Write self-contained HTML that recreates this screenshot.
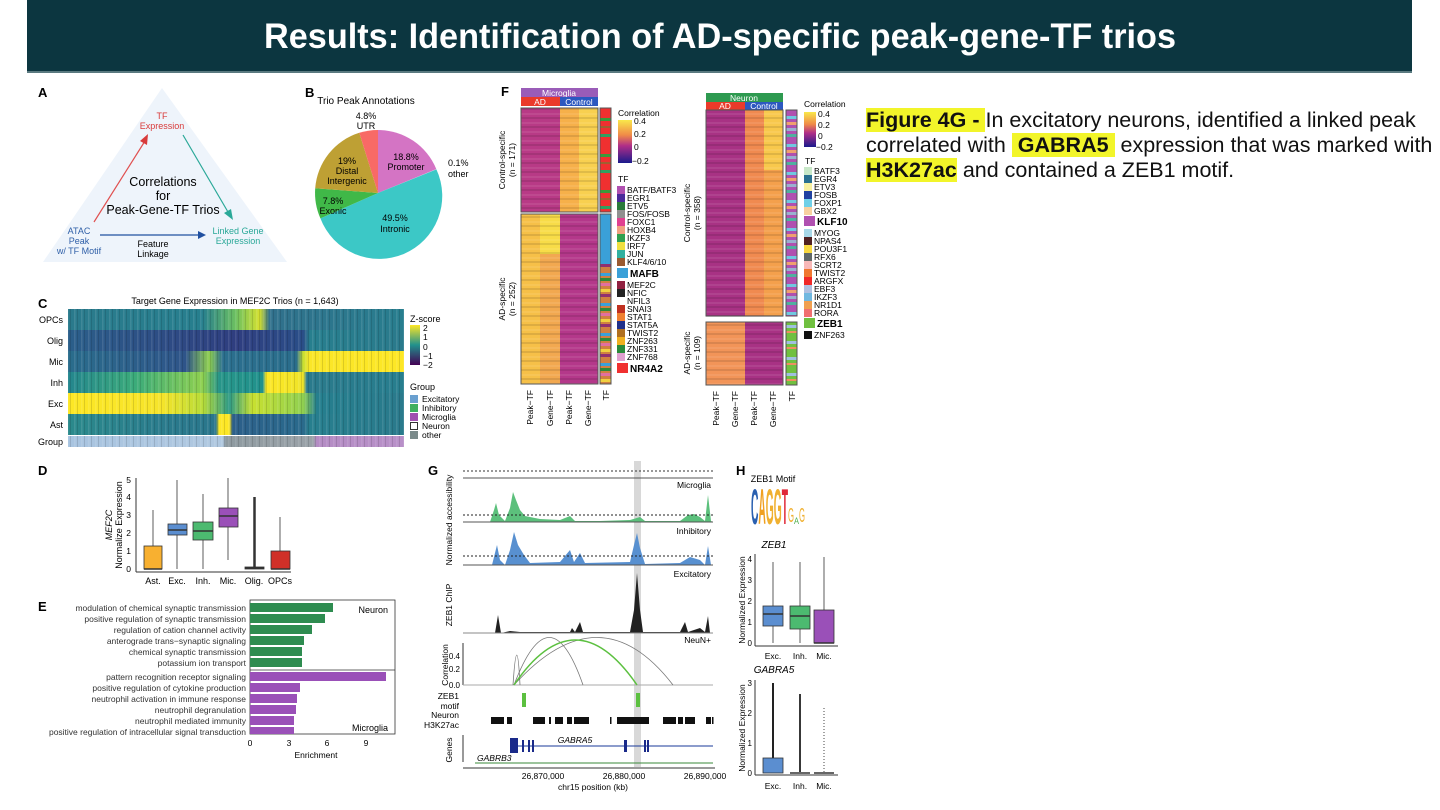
<!DOCTYPE html>
<html><head><meta charset="utf-8"><style>
body{margin:0;background:#fff;width:1440px;height:810px;overflow:hidden;font-family:"Liberation Sans",sans-serif}
.t{position:absolute;left:866px;font-size:21.5px;line-height:24.5px;white-space:nowrap;color:#111}
.hl{background:#f2f52a}
</style></head><body>
<svg width="1440" height="810" viewBox="0 0 1440 810" xmlns="http://www.w3.org/2000/svg" font-family="Liberation Sans, sans-serif" style="position:absolute;left:0;top:0">
<defs>
<linearGradient id="cOPC" x1="0" x2="1"><stop offset="0" stop-color="#2a7a8c"/><stop offset=".4" stop-color="#277f8e"/><stop offset=".5" stop-color="#6cc060"/><stop offset=".57" stop-color="#d4e030"/><stop offset=".6" stop-color="#30708c"/><stop offset="1" stop-color="#287e8e"/></linearGradient>
<linearGradient id="cOlig" x1="0" x2="1"><stop offset="0" stop-color="#2b5f8a"/><stop offset=".5" stop-color="#2f3e80"/><stop offset=".7" stop-color="#2a4e88"/><stop offset=".72" stop-color="#277f8e"/><stop offset="1" stop-color="#2a7a8c"/></linearGradient>
<linearGradient id="cMic" x1="0" x2="1"><stop offset="0" stop-color="#2a6d8c"/><stop offset=".35" stop-color="#2e5489"/><stop offset=".42" stop-color="#8fcf50"/><stop offset=".46" stop-color="#2b6f8e"/><stop offset=".68" stop-color="#2a6d8c"/><stop offset=".7" stop-color="#c8df30"/><stop offset=".72" stop-color="#fae628"/><stop offset="1" stop-color="#fde725"/></linearGradient>
<linearGradient id="cInh" x1="0" x2="1"><stop offset="0" stop-color="#24868e"/><stop offset=".2" stop-color="#3bab7a"/><stop offset=".4" stop-color="#8ed04f"/><stop offset=".45" stop-color="#279589"/><stop offset=".58" stop-color="#20918c"/><stop offset=".59" stop-color="#fde725"/><stop offset=".7" stop-color="#f0e428"/><stop offset=".71" stop-color="#2a7a8c"/><stop offset="1" stop-color="#287e8e"/></linearGradient>
<linearGradient id="cExc" x1="0" x2="1"><stop offset="0" stop-color="#fde725"/><stop offset=".28" stop-color="#f6e42a"/><stop offset=".4" stop-color="#b8dc38"/><stop offset=".48" stop-color="#2e9a86"/><stop offset=".55" stop-color="#c8e030"/><stop offset=".7" stop-color="#90d050"/><stop offset=".74" stop-color="#257f8e"/><stop offset="1" stop-color="#2a7a8c"/></linearGradient>
<linearGradient id="cAst" x1="0" x2="1"><stop offset="0" stop-color="#2b8a8c"/><stop offset=".3" stop-color="#2a7a8c"/><stop offset=".44" stop-color="#2a768c"/><stop offset=".45" stop-color="#fde725"/><stop offset=".48" stop-color="#fde725"/><stop offset=".49" stop-color="#2c5f8a"/><stop offset=".7" stop-color="#2a6a8c"/><stop offset=".72" stop-color="#277f8e"/><stop offset="1" stop-color="#2a7a8c"/></linearGradient>
<linearGradient id="cGrp" x1="0" x2="1"><stop offset="0" stop-color="#a8c4e0"/><stop offset=".46" stop-color="#b0c8e0"/><stop offset=".47" stop-color="#8e9aa0"/><stop offset=".73" stop-color="#9aa2a8"/><stop offset=".74" stop-color="#b48cc4"/><stop offset="1" stop-color="#b890c8"/></linearGradient>
<pattern id="vstr" width="7" height="10" patternUnits="userSpaceOnUse"><rect x="0" width="1" height="10" fill="#000" opacity=".12"/><rect x="4" width="1.5" height="10" fill="#fff" opacity=".1"/></pattern>
<pattern id="hstr" width="10" height="9" patternUnits="userSpaceOnUse"><rect y="0" width="10" height="2" fill="#000" opacity=".1"/><rect y="5" width="10" height="2" fill="#fff" opacity=".08"/></pattern>
<linearGradient id="corr" x1="0" y1="0" x2="0" y2="1"><stop offset="0" stop-color="#f9e84a"/><stop offset=".35" stop-color="#f08a48"/><stop offset=".6" stop-color="#b02e88"/><stop offset="1" stop-color="#1a1a8c"/></linearGradient>
<linearGradient id="zs" x1="0" y1="0" x2="0" y2="1"><stop offset="0" stop-color="#fde725"/><stop offset=".5" stop-color="#21918c"/><stop offset="1" stop-color="#440154"/></linearGradient>
<pattern id="tfm1" width="12" height="36" patternUnits="userSpaceOnUse"><rect width="12" height="36" fill="#f03030"/><rect y="10" width="12" height="3" fill="#3a9a3a"/><rect y="18" width="12" height="2" fill="#a06030"/><rect y="26" width="12" height="3" fill="#30a060"/></pattern>
<pattern id="tfm2" width="12" height="30" patternUnits="userSpaceOnUse"><rect width="12" height="30" fill="#d08040"/><rect y="3" width="12" height="3" fill="#3aa0d8"/><rect y="8" width="12" height="3" fill="#2a8a3a"/><rect y="13" width="12" height="3" fill="#e070a0"/><rect y="19" width="12" height="3" fill="#f0d040"/><rect y="24" width="12" height="3" fill="#903070"/></pattern>
<pattern id="tfn1" width="12" height="28" patternUnits="userSpaceOnUse"><rect width="12" height="28" fill="#b050b0"/><rect y="4" width="12" height="3" fill="#70c8e0"/><rect y="10" width="12" height="3" fill="#f0a070"/><rect y="16" width="12" height="3" fill="#9ab0d0"/><rect y="22" width="12" height="3" fill="#50b0a0"/></pattern>
<pattern id="tfn2" width="12" height="16" patternUnits="userSpaceOnUse"><rect width="12" height="16" fill="#70c040"/><rect y="5" width="12" height="3" fill="#a0c0e0"/><rect y="11" width="12" height="2" fill="#f09060"/></pattern>
</defs>

<!-- header -->
<rect x="27" y="0" width="1385" height="72" fill="#0c3640"/>
<rect x="27" y="71" width="1385" height="2" fill="#5a7a80"/>
<text x="720" y="48" text-anchor="middle" fill="#fff" font-weight="bold" font-size="35" textLength="912" lengthAdjust="spacingAndGlyphs">Results: Identification of AD-specific peak-gene-TF trios</text>

<!-- A -->
<text x="38" y="97" font-weight="bold" font-size="13">A</text>
<polygon points="162,88 43,262 287,262" fill="#eef4fb"/>
<text x="162" y="119" text-anchor="middle" font-size="9" fill="#d83a3a">TF</text>
<text x="162" y="129" text-anchor="middle" font-size="9" fill="#d83a3a">Expression</text>
<line x1="94" y1="222" x2="145" y2="141" stroke="#e05050" stroke-width="1.2"/><polygon points="148,134 140,141 147,145" fill="#d83a3a"/>
<line x1="183" y1="135" x2="228" y2="212" stroke="#2aa898" stroke-width="1.2"/><polygon points="233,220 224,213 231,209" fill="#2aa898"/>
<line x1="100" y1="235" x2="200" y2="235" stroke="#2050a0" stroke-width="1.2"/><polygon points="206,235 198,231 198,239" fill="#2050a0"/>
<text x="163" y="186" text-anchor="middle" font-size="12.5">Correlations</text>
<text x="163" y="200" text-anchor="middle" font-size="12.5">for</text>
<text x="163" y="214" text-anchor="middle" font-size="12.5">Peak-Gene-TF Trios</text>
<text x="79" y="234" text-anchor="middle" font-size="9" fill="#3060a8">ATAC</text>
<text x="79" y="244" text-anchor="middle" font-size="9" fill="#3060a8">Peak</text>
<text x="79" y="254" text-anchor="middle" font-size="9" fill="#3060a8">w/ TF Motif</text>
<text x="153" y="247" text-anchor="middle" font-size="9">Feature</text>
<text x="153" y="257" text-anchor="middle" font-size="9">Linkage</text>
<text x="238" y="234" text-anchor="middle" font-size="9" fill="#2aa898">Linked Gene</text>
<text x="238" y="244" text-anchor="middle" font-size="9" fill="#2aa898">Expression</text>

<!-- B -->
<text x="305" y="97" font-weight="bold" font-size="13">B</text>
<text x="366" y="104" text-anchor="middle" font-size="10">Trio Peak Annotations</text>
<path d="M378,193 L378,130 A63,63 0 0,1 436.3,169.1 Z" fill="#d474c4"/>
<path d="M378,193 L436.4,169.4 A63,63 0 1,1 320.4,218.4 Z" fill="#3cc8c6"/>
<path d="M378,193 L320.4,218.4 A63,63 0 0,1 315.2,188.3 Z" fill="#40b848"/>
<path d="M378,193 L315.2,188.3 A63,63 0 0,1 359.3,132.8 Z" fill="#bea034"/>
<path d="M378,193 L359.3,132.8 A63,63 0 0,1 378,130 Z" fill="#f86a66"/>
<text x="366" y="119" text-anchor="middle" font-size="9">4.8%</text><text x="366" y="129" text-anchor="middle" font-size="9">UTR</text>
<text x="406" y="160" text-anchor="middle" font-size="9">18.8%</text><text x="406" y="170" text-anchor="middle" font-size="9">Promoter</text>
<text x="448" y="166" font-size="9">0.1%</text><text x="448" y="177" font-size="9">other</text>
<text x="347" y="164" text-anchor="middle" font-size="9">19%</text><text x="347" y="174" text-anchor="middle" font-size="9">Distal</text><text x="347" y="184" text-anchor="middle" font-size="9">Intergenic</text>
<text x="333" y="204" text-anchor="middle" font-size="9">7.8%</text><text x="333" y="214" text-anchor="middle" font-size="9">Exonic</text>
<text x="395" y="221" text-anchor="middle" font-size="9">49.5%</text><text x="395" y="232" text-anchor="middle" font-size="9">Intronic</text>

<!-- C -->
<text x="38" y="308" font-weight="bold" font-size="13">C</text>
<text x="235" y="304" text-anchor="middle" font-size="9">Target Gene Expression in MEF2C Trios (n = 1,643)</text>
<rect x="68" y="309" width="336" height="21" fill="url(#cOPC)"/>
<rect x="68" y="330" width="336" height="21" fill="url(#cOlig)"/>
<rect x="68" y="351" width="336" height="21" fill="url(#cMic)"/>
<rect x="68" y="372" width="336" height="21" fill="url(#cInh)"/>
<rect x="68" y="393" width="336" height="21" fill="url(#cExc)"/>
<rect x="68" y="414" width="336" height="21" fill="url(#cAst)"/>
<rect x="68" y="309" width="336" height="126" fill="url(#vstr)"/>
<rect x="68" y="436" width="336" height="11" fill="url(#cGrp)"/>
<rect x="68" y="436" width="336" height="11" fill="url(#vstr)"/>
<g font-size="9" text-anchor="end"><text x="63" y="323">OPCs</text><text x="63" y="344">Olig</text><text x="63" y="365">Mic</text><text x="63" y="386">Inh</text><text x="63" y="407">Exc</text><text x="63" y="428">Ast</text><text x="63" y="445">Group</text></g>
<text x="410" y="322" font-size="9">Z-score</text>
<rect x="410" y="325" width="10" height="40" fill="url(#zs)"/>
<g font-size="8.5"><text x="423" y="331">2</text><text x="423" y="340">1</text><text x="423" y="350">0</text><text x="423" y="359">−1</text><text x="423" y="368">−2</text><text x="410" y="390" font-size="9">Group</text>
<rect x="410" y="395" width="8" height="8" fill="#6aa0d0"/><text x="422" y="402">Excitatory</text>
<rect x="410" y="404" width="8" height="8" fill="#40b060"/><text x="422" y="411">Inhibitory</text>
<rect x="410" y="413" width="8" height="8" fill="#a050b0"/><text x="422" y="420">Microglia</text>
<rect x="410.5" y="422.5" width="7" height="7" fill="#fff" stroke="#333"/><text x="422" y="429">Neuron</text>
<rect x="410" y="431" width="8" height="8" fill="#7a8a8a"/><text x="422" y="438">other</text></g>

<!-- D -->
<text x="38" y="475" font-weight="bold" font-size="13">D</text>
<line x1="136" y1="478" x2="136" y2="572" stroke="#333"/><line x1="136" y1="572" x2="291" y2="572" stroke="#333"/>
<g font-size="8.5" text-anchor="end"><text x="131" y="572">0</text><text x="131" y="554">1</text><text x="131" y="536">2</text><text x="131" y="518">3</text><text x="131" y="500">4</text><text x="131" y="483">5</text></g>
<text transform="translate(112,525) rotate(-90)" text-anchor="middle" font-size="9" font-style="italic">MEF2C</text>
<text transform="translate(122,525) rotate(-90)" text-anchor="middle" font-size="9">Normalize Expression</text>
<g stroke="#333" stroke-width="0.8">
<line x1="153" y1="510" x2="153" y2="546"/><rect x="144" y="546" width="18" height="23" fill="#f8b030"/><line x1="144" y1="569" x2="162" y2="569" stroke-width="1.5"/>
<line x1="177" y1="480" x2="177" y2="569"/><rect x="168" y="524" width="19" height="11" fill="#5b8ed0"/><line x1="168" y1="530" x2="187" y2="530" stroke-width="1.5"/>
<line x1="203" y1="494" x2="203" y2="569"/><rect x="193" y="522" width="20" height="18" fill="#4cba70"/><line x1="193" y1="531" x2="213" y2="531" stroke-width="1.5"/>
<line x1="228" y1="478" x2="228" y2="560"/><rect x="219" y="508" width="19" height="19" fill="#9a50b8"/><line x1="219" y1="516" x2="238" y2="516" stroke-width="1.5"/>
<rect x="245" y="567" width="19" height="2" fill="#333"/>
<line x1="254.5" y1="497" x2="254.5" y2="567" stroke-width="2.5"/>
<line x1="280" y1="517" x2="280" y2="551"/><rect x="271" y="551" width="19" height="18" fill="#d03028"/><line x1="271" y1="569" x2="290" y2="569" stroke-width="1.5"/>
</g>
<g font-size="9" text-anchor="middle"><text x="153" y="584">Ast.</text><text x="177" y="584">Exc.</text><text x="203" y="584">Inh.</text><text x="228" y="584">Mic.</text><text x="254" y="584">Olig.</text><text x="280" y="584">OPCs</text></g>

<!-- E -->
<text x="38" y="611" font-weight="bold" font-size="13">E</text>
<rect x="250" y="600" width="145" height="134" fill="none" stroke="#333" stroke-width="0.8"/>
<line x1="250" y1="670" x2="395" y2="670" stroke="#333" stroke-width="0.8"/>
<g fill="#2e8c50"><rect x="250" y="603" width="83" height="9"/><rect x="250" y="614" width="75" height="9"/><rect x="250" y="625" width="62" height="9"/><rect x="250" y="636" width="54" height="9"/><rect x="250" y="647" width="52" height="9"/><rect x="250" y="658" width="52" height="9"/></g>
<g fill="#9a50b8"><rect x="250" y="672" width="136" height="9"/><rect x="250" y="683" width="50" height="9"/><rect x="250" y="694" width="47" height="9"/><rect x="250" y="705" width="46" height="9"/><rect x="250" y="716" width="44" height="9"/><rect x="250" y="727" width="44" height="7"/></g>
<g font-size="8.5" text-anchor="end" fill="#333"><text x="246" y="611">modulation of chemical synaptic transmission</text><text x="246" y="622">positive regulation of synaptic transmission</text><text x="246" y="633">regulation of cation channel activity</text><text x="246" y="644">anterograde trans−synaptic signaling</text><text x="246" y="655">chemical synaptic transmission</text><text x="246" y="666">potassium ion transport</text>
<text x="246" y="680">pattern recognition receptor signaling</text><text x="246" y="691">positive regulation of cytokine production</text><text x="246" y="702">neutrophil activation in immune response</text><text x="246" y="713">neutrophil degranulation</text><text x="246" y="724">neutrophil mediated immunity</text><text x="246" y="735">positive regulation of intracellular signal transduction</text></g>
<text x="388" y="613" text-anchor="end" font-size="9">Neuron</text><text x="388" y="731" text-anchor="end" font-size="9">Microglia</text>
<g font-size="8.5" text-anchor="middle"><text x="250" y="746">0</text><text x="289" y="746">3</text><text x="327" y="746">6</text><text x="366" y="746">9</text><text x="316" y="758">Enrichment</text></g>

<!-- F Microglia -->
<text x="501" y="96" font-weight="bold" font-size="13">F</text>
<rect x="521" y="88" width="77" height="9" fill="#9a5cb8"/><text x="559" y="96" text-anchor="middle" font-size="8.5" fill="#fff">Microglia</text>
<rect x="521" y="97" width="39" height="9" fill="#ea3a2a"/><text x="540" y="105" text-anchor="middle" font-size="8.5" fill="#fff">AD</text>
<rect x="560" y="97" width="38" height="9" fill="#2c58c0"/><text x="579" y="105" text-anchor="middle" font-size="8.5" fill="#fff">Control</text>
<rect x="521" y="108" width="39" height="104" fill="#b83a86"/><rect x="560" y="108" width="19" height="104" fill="#f6b04a"/><rect x="579" y="108" width="19" height="104" fill="#f8d050"/>
<rect x="521" y="214" width="19" height="170" fill="#f6c048"/><rect x="540" y="214" width="20" height="170" fill="#f2a850"/><rect x="540" y="214" width="20" height="40" fill="#f8dc48"/><rect x="560" y="214" width="38" height="170" fill="#b4388a"/>
<rect x="521" y="108" width="77" height="276" fill="url(#hstr)"/>
<rect x="521" y="108" width="77" height="104" fill="none" stroke="#555"/><rect x="521" y="214" width="77" height="170" fill="none" stroke="#555"/>
<rect x="600" y="108" width="11" height="104" fill="url(#tfm1)"/><rect x="600" y="214" width="11" height="50" fill="#3aa0d8"/><rect x="600" y="264" width="11" height="120" fill="url(#tfm2)"/>
<rect x="600" y="108" width="11" height="104" fill="none" stroke="#555"/><rect x="600" y="214" width="11" height="170" fill="none" stroke="#555"/>
<text transform="translate(505,160) rotate(-90)" text-anchor="middle" font-size="8.5">Control-specific</text><text transform="translate(515,160) rotate(-90)" text-anchor="middle" font-size="8.5">(n = 171)</text>
<text transform="translate(505,299) rotate(-90)" text-anchor="middle" font-size="8.5">AD-specific</text><text transform="translate(515,299) rotate(-90)" text-anchor="middle" font-size="8.5">(n = 252)</text>
<g font-size="8.5" text-anchor="end"><text transform="translate(533,390) rotate(-90)">Peak−TF</text><text transform="translate(553,390) rotate(-90)">Gene−TF</text><text transform="translate(572,390) rotate(-90)">Peak−TF</text><text transform="translate(591,390) rotate(-90)">Gene−TF</text><text transform="translate(609,390) rotate(-90)">TF</text></g>
<text x="618" y="116" font-size="8.5">Correlation</text>
<rect x="618" y="120" width="14" height="43" fill="url(#corr)"/>
<g font-size="8.5"><text x="634" y="124">0.4</text><text x="634" y="137">0.2</text><text x="634" y="150">0</text><text x="632" y="164">−0.2</text><text x="618" y="182">TF</text></g>
<g font-size="8.5">
<rect x="617" y="186" width="8" height="8" fill="#b050b0"/><text x="627" y="193">BATF/BATF3</text>
<rect x="617" y="194" width="8" height="8" fill="#4a2a9a"/><text x="627" y="201">EGR1</text>
<rect x="617" y="202" width="8" height="8" fill="#2a7a3a"/><text x="627" y="209">ETV5</text>
<rect x="617" y="210" width="8" height="8" fill="#909090"/><text x="627" y="217">FOS/FOSB</text>
<rect x="617" y="218" width="8" height="8" fill="#e04090"/><text x="627" y="225">FOXC1</text>
<rect x="617" y="226" width="8" height="8" fill="#f0a080"/><text x="627" y="233">HOXB4</text>
<rect x="617" y="234" width="8" height="8" fill="#30a050"/><text x="627" y="241">IKZF3</text>
<rect x="617" y="242" width="8" height="8" fill="#f0e040"/><text x="627" y="249">IRF7</text>
<rect x="617" y="250" width="8" height="8" fill="#30b0a0"/><text x="627" y="257">JUN</text>
<rect x="617" y="258" width="8" height="8" fill="#9a5a30"/><text x="627" y="265">KLF4/6/10</text>
<rect x="617" y="268" width="11" height="10" fill="#3aa0d8"/><text x="630" y="277" font-weight="bold" font-size="10">MAFB</text>
<rect x="617" y="281" width="8" height="8" fill="#902040"/><text x="627" y="288">MEF2C</text>
<rect x="617" y="289" width="8" height="8" fill="#222"/><text x="627" y="296">NFIC</text>
<text x="627" y="304">NFIL3</text>
<rect x="617" y="305" width="8" height="8" fill="#c03020"/><text x="627" y="312">SNAI3</text>
<rect x="617" y="313" width="8" height="8" fill="#f08030"/><text x="627" y="320">STAT1</text>
<rect x="617" y="321" width="8" height="8" fill="#20308a"/><text x="627" y="328">STAT5A</text>
<rect x="617" y="329" width="8" height="8" fill="#b07020"/><text x="627" y="336">TWIST2</text>
<rect x="617" y="337" width="8" height="8" fill="#f0b020"/><text x="627" y="344">ZNF263</text>
<rect x="617" y="345" width="8" height="8" fill="#2a8a3a"/><text x="627" y="352">ZNF331</text>
<rect x="617" y="353" width="8" height="8" fill="#e0a0d0"/><text x="627" y="360">ZNF768</text>
<rect x="617" y="363" width="11" height="10" fill="#f03030"/><text x="630" y="372" font-weight="bold" font-size="10">NR4A2</text>
</g>

<!-- F Neuron -->
<rect x="706" y="93" width="77" height="9" fill="#2e9a50"/><text x="744" y="101" text-anchor="middle" font-size="8.5" fill="#fff">Neuron</text>
<rect x="706" y="102" width="39" height="8" fill="#ea3a2a"/><text x="725" y="109" text-anchor="middle" font-size="8.5" fill="#fff">AD</text>
<rect x="745" y="102" width="38" height="8" fill="#2c58c0"/><text x="764" y="109" text-anchor="middle" font-size="8.5" fill="#fff">Control</text>
<rect x="706" y="110" width="39" height="206" fill="#a83284"/><rect x="745" y="110" width="19" height="206" fill="#f08a50"/><rect x="764" y="110" width="19" height="206" fill="#f4a04c"/><rect x="764" y="110" width="19" height="60" fill="#f8c84c"/>
<rect x="706" y="322" width="39" height="63" fill="#f29458"/><rect x="745" y="322" width="38" height="63" fill="#a83284"/>
<rect x="706" y="110" width="77" height="275" fill="url(#hstr)"/>
<rect x="706" y="110" width="77" height="206" fill="none" stroke="#555"/><rect x="706" y="322" width="77" height="63" fill="none" stroke="#555"/>
<rect x="786" y="110" width="11" height="206" fill="url(#tfn1)"/><rect x="786" y="322" width="11" height="63" fill="url(#tfn2)"/>
<rect x="786" y="110" width="11" height="206" fill="none" stroke="#555"/><rect x="786" y="322" width="11" height="63" fill="none" stroke="#555"/>
<text transform="translate(690,213) rotate(-90)" text-anchor="middle" font-size="8.5">Control-specific</text><text transform="translate(700,213) rotate(-90)" text-anchor="middle" font-size="8.5">(n = 358)</text>
<text transform="translate(690,353) rotate(-90)" text-anchor="middle" font-size="8.5">AD-specific</text><text transform="translate(700,353) rotate(-90)" text-anchor="middle" font-size="8.5">(n = 109)</text>
<g font-size="8.5" text-anchor="end"><text transform="translate(719,391) rotate(-90)">Peak−TF</text><text transform="translate(738,391) rotate(-90)">Gene−TF</text><text transform="translate(757,391) rotate(-90)">Peak−TF</text><text transform="translate(776,391) rotate(-90)">Gene−TF</text><text transform="translate(795,391) rotate(-90)">TF</text></g>
<text x="804" y="107" font-size="8.5">Correlation</text>
<rect x="804" y="112" width="12" height="35" fill="url(#corr)"/>
<g font-size="8.5"><text x="818" y="117">0.4</text><text x="818" y="128">0.2</text><text x="818" y="139">0</text><text x="816" y="150">−0.2</text><text x="805" y="164">TF</text>
<rect x="804" y="167" width="8" height="8" fill="#c8e8c8"/><text x="814" y="174">BATF3</text>
<rect x="804" y="175" width="8" height="8" fill="#2a7090"/><text x="814" y="182">EGR4</text>
<rect x="804" y="183" width="8" height="8" fill="#f8f0a0"/><text x="814" y="190">ETV3</text>
<rect x="804" y="191" width="8" height="8" fill="#2040a0"/><text x="814" y="198">FOSB</text>
<rect x="804" y="199" width="8" height="8" fill="#70d0e8"/><text x="814" y="206">FOXP1</text>
<rect x="804" y="207" width="8" height="8" fill="#f8d0a0"/><text x="814" y="214">GBX2</text>
<rect x="804" y="216" width="11" height="10" fill="#b050b0"/><text x="817" y="225" font-weight="bold" font-size="10">KLF10</text>
<rect x="804" y="229" width="8" height="8" fill="#a8d8e8"/><text x="814" y="236">MYOG</text>
<rect x="804" y="237" width="8" height="8" fill="#502020"/><text x="814" y="244">NPAS4</text>
<rect x="804" y="245" width="8" height="8" fill="#f8d840"/><text x="814" y="252">POU3F1</text>
<rect x="804" y="253" width="8" height="8" fill="#606868"/><text x="814" y="260">RFX6</text>
<rect x="804" y="261" width="8" height="8" fill="#f8b8b8"/><text x="814" y="268">SCRT2</text>
<rect x="804" y="269" width="8" height="8" fill="#f07830"/><text x="814" y="276">TWIST2</text>
<rect x="804" y="277" width="8" height="8" fill="#f02828"/><text x="814" y="284">ARGFX</text>
<rect x="804" y="285" width="8" height="8" fill="#b0c0e0"/><text x="814" y="292">EBF3</text>
<rect x="804" y="293" width="8" height="8" fill="#70b8e0"/><text x="814" y="300">IKZF3</text>
<rect x="804" y="301" width="8" height="8" fill="#f0a050"/><text x="814" y="308">NR1D1</text>
<rect x="804" y="309" width="8" height="8" fill="#f07070"/><text x="814" y="316">RORA</text>
<rect x="804" y="318" width="11" height="10" fill="#70c040"/><text x="817" y="327" font-weight="bold" font-size="10">ZEB1</text>
<rect x="804" y="331" width="8" height="8" fill="#111"/><text x="814" y="338">ZNF263</text></g>

<!-- G -->
<text x="428" y="475" font-weight="bold" font-size="13">G</text>
<rect x="634" y="461" width="7" height="306" fill="#d8d8d8"/>
<line x1="463" y1="471" x2="713" y2="471" stroke="#333" stroke-dasharray="2,2"/>
<line x1="463" y1="478" x2="713" y2="478" stroke="#555"/>
<text x="711" y="488" text-anchor="end" font-size="8.5">Microglia</text>
<path d="M463,522 L490,522 L494,510 L496,503 L499,515 L505,521 L510,508 L513,492 L516,500 L520,510 L525,516 L540,519 L560,520 L570,516 L575,521 L600,521 L630,520 L640,517 L645,521 L680,521 L688,515 L694,514 L700,517 L705,521 L708,495 L711,521 L713,522 Z" fill="#5cc07c"/>
<line x1="463" y1="515" x2="713" y2="515" stroke="#222" stroke-dasharray="2,2"/>
<line x1="463" y1="522" x2="713" y2="522" stroke="#555"/>
<text x="711" y="534" text-anchor="end" font-size="8.5">Inhibitory</text>
<path d="M463,565 L492,565 L497,545 L500,560 L505,565 L510,550 L514,532 L518,545 L524,555 L530,563 L560,562 L570,550 L574,562 L580,553 L585,563 L630,562 L634,545 L637,533 L640,548 L645,564 L680,563 L690,557 L700,560 L705,565 L708,546 L711,565 L713,565 Z" fill="#5890d0"/>
<line x1="463" y1="556" x2="713" y2="556" stroke="#222" stroke-dasharray="2,2"/>
<line x1="463" y1="565" x2="713" y2="565" stroke="#555"/>
<text x="711" y="577" text-anchor="end" font-size="8.5">Excitatory</text>
<path d="M475,633 L495,633 L498,615 L501,633 L510,631 L520,632 L570,632 L572,628 L575,632 L580,622 L583,632 L630,632 L634,610 L637,573 L640,610 L643,632 L680,632 L685,622 L688,632 L700,628 L705,632 L708,616 L710,633 Z" fill="#222"/>
<line x1="463" y1="633" x2="713" y2="633" stroke="#888"/>
<text x="711" y="643" text-anchor="end" font-size="8.5">NeuN+</text>
<line x1="463" y1="643" x2="463" y2="685" stroke="#333"/><line x1="463" y1="685" x2="713" y2="685" stroke="#aaa"/>
<g font-size="8" text-anchor="end"><text x="460" y="659">0.4</text><text x="460" y="672">0.2</text><text x="460" y="688">0.0</text></g>
<g fill="none" stroke="#777" stroke-width="0.8"><path d="M513,685 Q517,625 520,685"/><path d="M514,685 Q550,590 583,685"/><path d="M514,685 Q600,590 673,685"/></g>
<path d="M514,685 Q575,595 637,685" fill="none" stroke="#5cc040" stroke-width="1.5"/>
<rect x="522" y="693" width="4" height="14" fill="#5cc040"/><rect x="636" y="693" width="4" height="14" fill="#5cc040"/>
<g fill="#111"><rect x="491" y="717" width="13" height="7"/><rect x="507" y="717" width="5" height="7"/><rect x="533" y="717" width="12" height="7"/><rect x="549" y="717" width="2" height="7"/><rect x="555" y="717" width="8" height="7"/><rect x="567" y="717" width="5" height="7"/><rect x="574" y="717" width="15" height="7"/><rect x="610" y="717" width="1.5" height="7"/><rect x="617" y="717" width="32" height="7"/><rect x="663" y="717" width="13" height="7"/><rect x="678" y="717" width="5" height="7"/><rect x="685" y="717" width="10" height="7"/><rect x="706" y="717" width="5" height="7"/><rect x="712" y="717" width="1.5" height="7"/></g>
<line x1="463" y1="735" x2="463" y2="762" stroke="#333"/>
<line x1="514" y1="746" x2="713" y2="746" stroke="#1a3a9a"/>
<g fill="#1a2a8a"><rect x="510" y="738" width="8" height="15"/><rect x="522" y="740" width="2" height="12"/><rect x="528" y="740" width="2" height="12"/><rect x="532" y="740" width="2" height="12"/><rect x="624" y="740" width="3" height="12"/><rect x="644" y="740" width="2" height="12"/><rect x="647" y="740" width="2" height="12"/></g>
<text x="575" y="743" text-anchor="middle" font-size="8.5" font-style="italic">GABRA5</text>
<text x="477" y="761" font-size="8.5" font-style="italic">GABRB3</text>
<line x1="475" y1="763" x2="713" y2="763" stroke="#3a8a3a"/>
<line x1="463" y1="768" x2="715" y2="768" stroke="#333"/>
<g font-size="8.5" text-anchor="middle"><text x="543" y="779">26,870,000</text><text x="624" y="779">26,880,000</text><text x="705" y="779">26,890,000</text><text x="593" y="790">chr15 position (kb)</text></g>
<g font-size="8.5" text-anchor="middle"><text transform="translate(452,520) rotate(-90)">Normalized accessibility</text><text transform="translate(452,605) rotate(-90)">ZEB1 ChIP</text><text transform="translate(448,665) rotate(-90)">Correlation</text><text transform="translate(452,750) rotate(-90)">Genes</text></g>
<g font-size="8.5" text-anchor="end"><text x="459" y="699">ZEB1</text><text x="459" y="709">motif</text><text x="459" y="718">Neuron</text><text x="459" y="728">H3K27ac</text></g>

<!-- H -->
<text x="736" y="475" font-weight="bold" font-size="13">H</text>
<text x="773" y="482" text-anchor="middle" font-size="9">ZEB1 Motif</text>
<text x="751" y="524" font-size="50" font-weight="bold" textLength="37" lengthAdjust="spacingAndGlyphs"><tspan fill="#2a60b0">C</tspan><tspan fill="#f0a020">A</tspan><tspan fill="#f0b030">G</tspan><tspan fill="#f0b030">G</tspan><tspan fill="#e02838">T</tspan></text>
<text x="788" y="522" font-size="20" fill="#f0b030" textLength="6" lengthAdjust="spacingAndGlyphs">G</text>
<text x="794" y="524" font-size="9" fill="#50b050" textLength="5" lengthAdjust="spacingAndGlyphs">A</text>
<text x="799" y="522" font-size="20" fill="#f0b030" textLength="6" lengthAdjust="spacingAndGlyphs">G</text>
<text x="774" y="548" text-anchor="middle" font-size="10" font-style="italic">ZEB1</text>
<line x1="755" y1="554" x2="755" y2="646" stroke="#333"/><line x1="755" y1="646" x2="838" y2="646" stroke="#333"/>
<g font-size="8" text-anchor="end"><text x="752" y="646">0</text><text x="752" y="625">1</text><text x="752" y="604">2</text><text x="752" y="583">3</text><text x="752" y="562">4</text></g>
<text transform="translate(745,600) rotate(-90)" text-anchor="middle" font-size="8.5">Normalized Expression</text>
<g stroke="#333" stroke-width="0.8"><line x1="773" y1="562" x2="773" y2="643"/><rect x="763" y="606" width="20" height="20" fill="#5b8ed0"/><line x1="763" y1="614" x2="783" y2="614" stroke-width="1.5"/>
<line x1="800" y1="562" x2="800" y2="643"/><rect x="790" y="606" width="20" height="23" fill="#4cba70"/><line x1="790" y1="616" x2="810" y2="616" stroke-width="1.5"/>
<line x1="824" y1="557" x2="824" y2="610"/><rect x="814" y="610" width="20" height="33" fill="#9a50b8"/><line x1="814" y1="643" x2="834" y2="643" stroke-width="1.5"/></g>
<g font-size="8.5" text-anchor="middle"><text x="773" y="659">Exc.</text><text x="800" y="659">Inh.</text><text x="824" y="659">Mic.</text></g>
<text x="774" y="673" text-anchor="middle" font-size="10" font-style="italic">GABRA5</text>
<line x1="755" y1="680" x2="755" y2="775" stroke="#333"/><line x1="755" y1="775" x2="838" y2="775" stroke="#333"/>
<g font-size="8" text-anchor="end"><text x="752" y="776">0</text><text x="752" y="746">1</text><text x="752" y="716">2</text><text x="752" y="686">3</text></g>
<text transform="translate(745,728) rotate(-90)" text-anchor="middle" font-size="8.5">Normalized Expression</text>
<line x1="773" y1="683" x2="773" y2="758" stroke="#222" stroke-width="2"/><rect x="763" y="758" width="20" height="15" fill="#5b8ed0" stroke="#333" stroke-width="0.8"/>
<line x1="800" y1="694" x2="800" y2="772" stroke="#222" stroke-width="1.8"/><line x1="790" y1="773" x2="810" y2="773" stroke="#333" stroke-width="1.5"/>
<line x1="824" y1="708" x2="824" y2="772" stroke="#444" stroke-width="1" stroke-dasharray="1,2"/><line x1="814" y1="773" x2="834" y2="773" stroke="#333" stroke-width="1.5"/>
<g font-size="8.5" text-anchor="middle"><text x="773" y="789">Exc.</text><text x="800" y="789">Inh.</text><text x="824" y="789">Mic.</text></g>
</svg>
<div class="t" style="top:108px"><b class="hl">Figure 4G - </b>In excitatory neurons, identified a linked peak</div>
<div class="t" style="top:133px">correlated with <b class="hl">&nbsp;GABRA5&nbsp;</b> expression that was marked with</div>
<div class="t" style="top:158px"><b class="hl">H3K27ac</b> and contained a ZEB1 motif.</div>
</body></html>
